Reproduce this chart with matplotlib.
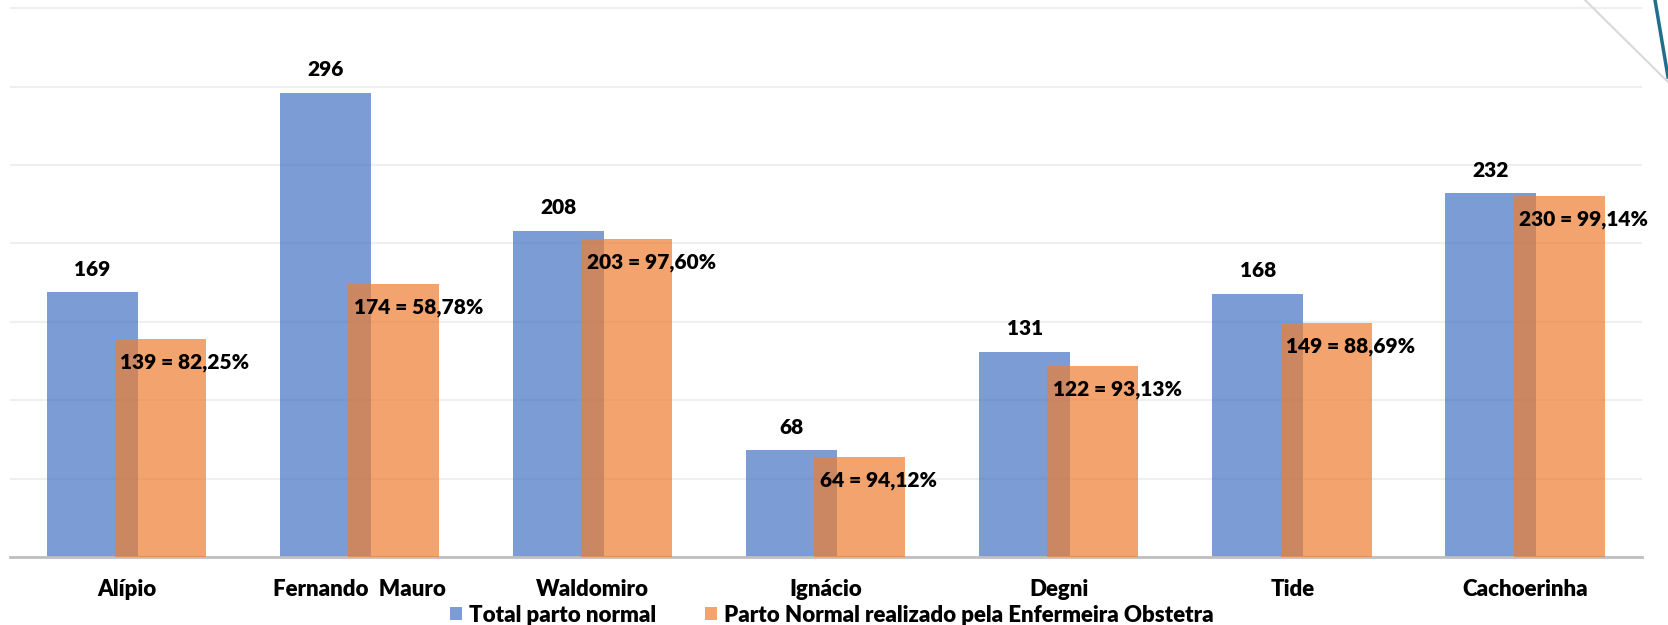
import matplotlib.pyplot as plt
from matplotlib.lines import Line2D
import numpy as np

# data
unidades = ['Alípio', 'Fernando  Mauro', 'Waldomiro', 'Ignácio', 'Degni', 'Tide', 'Cachoerinha']
total_normal = [169, 296, 208, 68, 131, 168, 232]
parto_enf = [139, 174, 203, 64, 122, 149, 230]
pct_enf = ['82,25%', '58,78%', '97,60%', '94,12%', '93,13%', '88,69%', '99,14%']

plt.rcParams['font.family'] = ['Lato', 'DejaVu Sans']
W = 'heavy'

fig = plt.figure(figsize=(16.68, 6.25), dpi=100)
ax = fig.add_axes([10 / 1668, 68 / 625, 1632 / 1668, 557 / 625])

x = np.arange(len(unidades))
w = 0.39
b1 = ax.bar(x - 0.148, total_normal, w, color='#4472C4', alpha=0.7, zorder=2,
            label='Total parto normal')
b2 = ax.bar(x + 0.145, parto_enf, w, color='#ED7D31', alpha=0.7, zorder=3,
            label='Parto Normal realizado pela Enfermeira Obstetra')

# labels
for rect, v in zip(b1, total_normal):
    ax.annotate(str(v), (rect.get_x() + rect.get_width() / 2, v),
                xytext=(0, 16.5), textcoords='offset points',
                ha='center', va='center', fontsize=15, fontweight=W, zorder=5)
for rect, v, p in zip(b2, parto_enf, pct_enf):
    ax.annotate(f'{v} = {p}', (rect.get_x(), v),
                xytext=(4, -17), textcoords='offset points',
                ha='left', va='center', fontsize=15, fontweight=W, zorder=5,
                annotation_clip=False)

ax.set_xlim(-0.5, len(unidades) - 0.5)
ax.set_ylim(0, 355.2)
ax.set_yticks(np.arange(0, 351, 50))
ax.yaxis.grid(True, color='#EFEFEF', linewidth=1.5, zorder=0)
ax.set_axisbelow(True)
ax.tick_params(axis='y', left=False, labelleft=False)
ax.tick_params(axis='x', bottom=False, pad=12)
ax.set_xticks(x)
ax.set_xticklabels(unidades, fontsize=16, fontweight=W)
for s in ['top', 'right', 'left']:
    ax.spines[s].set_visible(False)
ax.spines['bottom'].set_color('#BFBFBF')
ax.spines['bottom'].set_linewidth(2)

fig.legend(loc='center', bbox_to_anchor=(0.4985, 0.016), ncol=2, frameon=False,
           handlelength=0.55, handleheight=0.55, handletextpad=0.3,
           columnspacing=2.2, prop={'weight': W, 'size': 16})

# slide decoration in the top-right corner
fig.add_artist(Line2D([1585 / 1668, 1.0], [1.0, 1 - 82 / 625], transform=fig.transFigure,
                      color='#D9D9D9', linewidth=1.5))
fig.add_artist(Line2D([1655 / 1668, 1.0], [1.0, 1 - 77 / 625], transform=fig.transFigure,
                      color='#1F6E8C', linewidth=2.5))

fig.savefig('out.png', dpi=100)
